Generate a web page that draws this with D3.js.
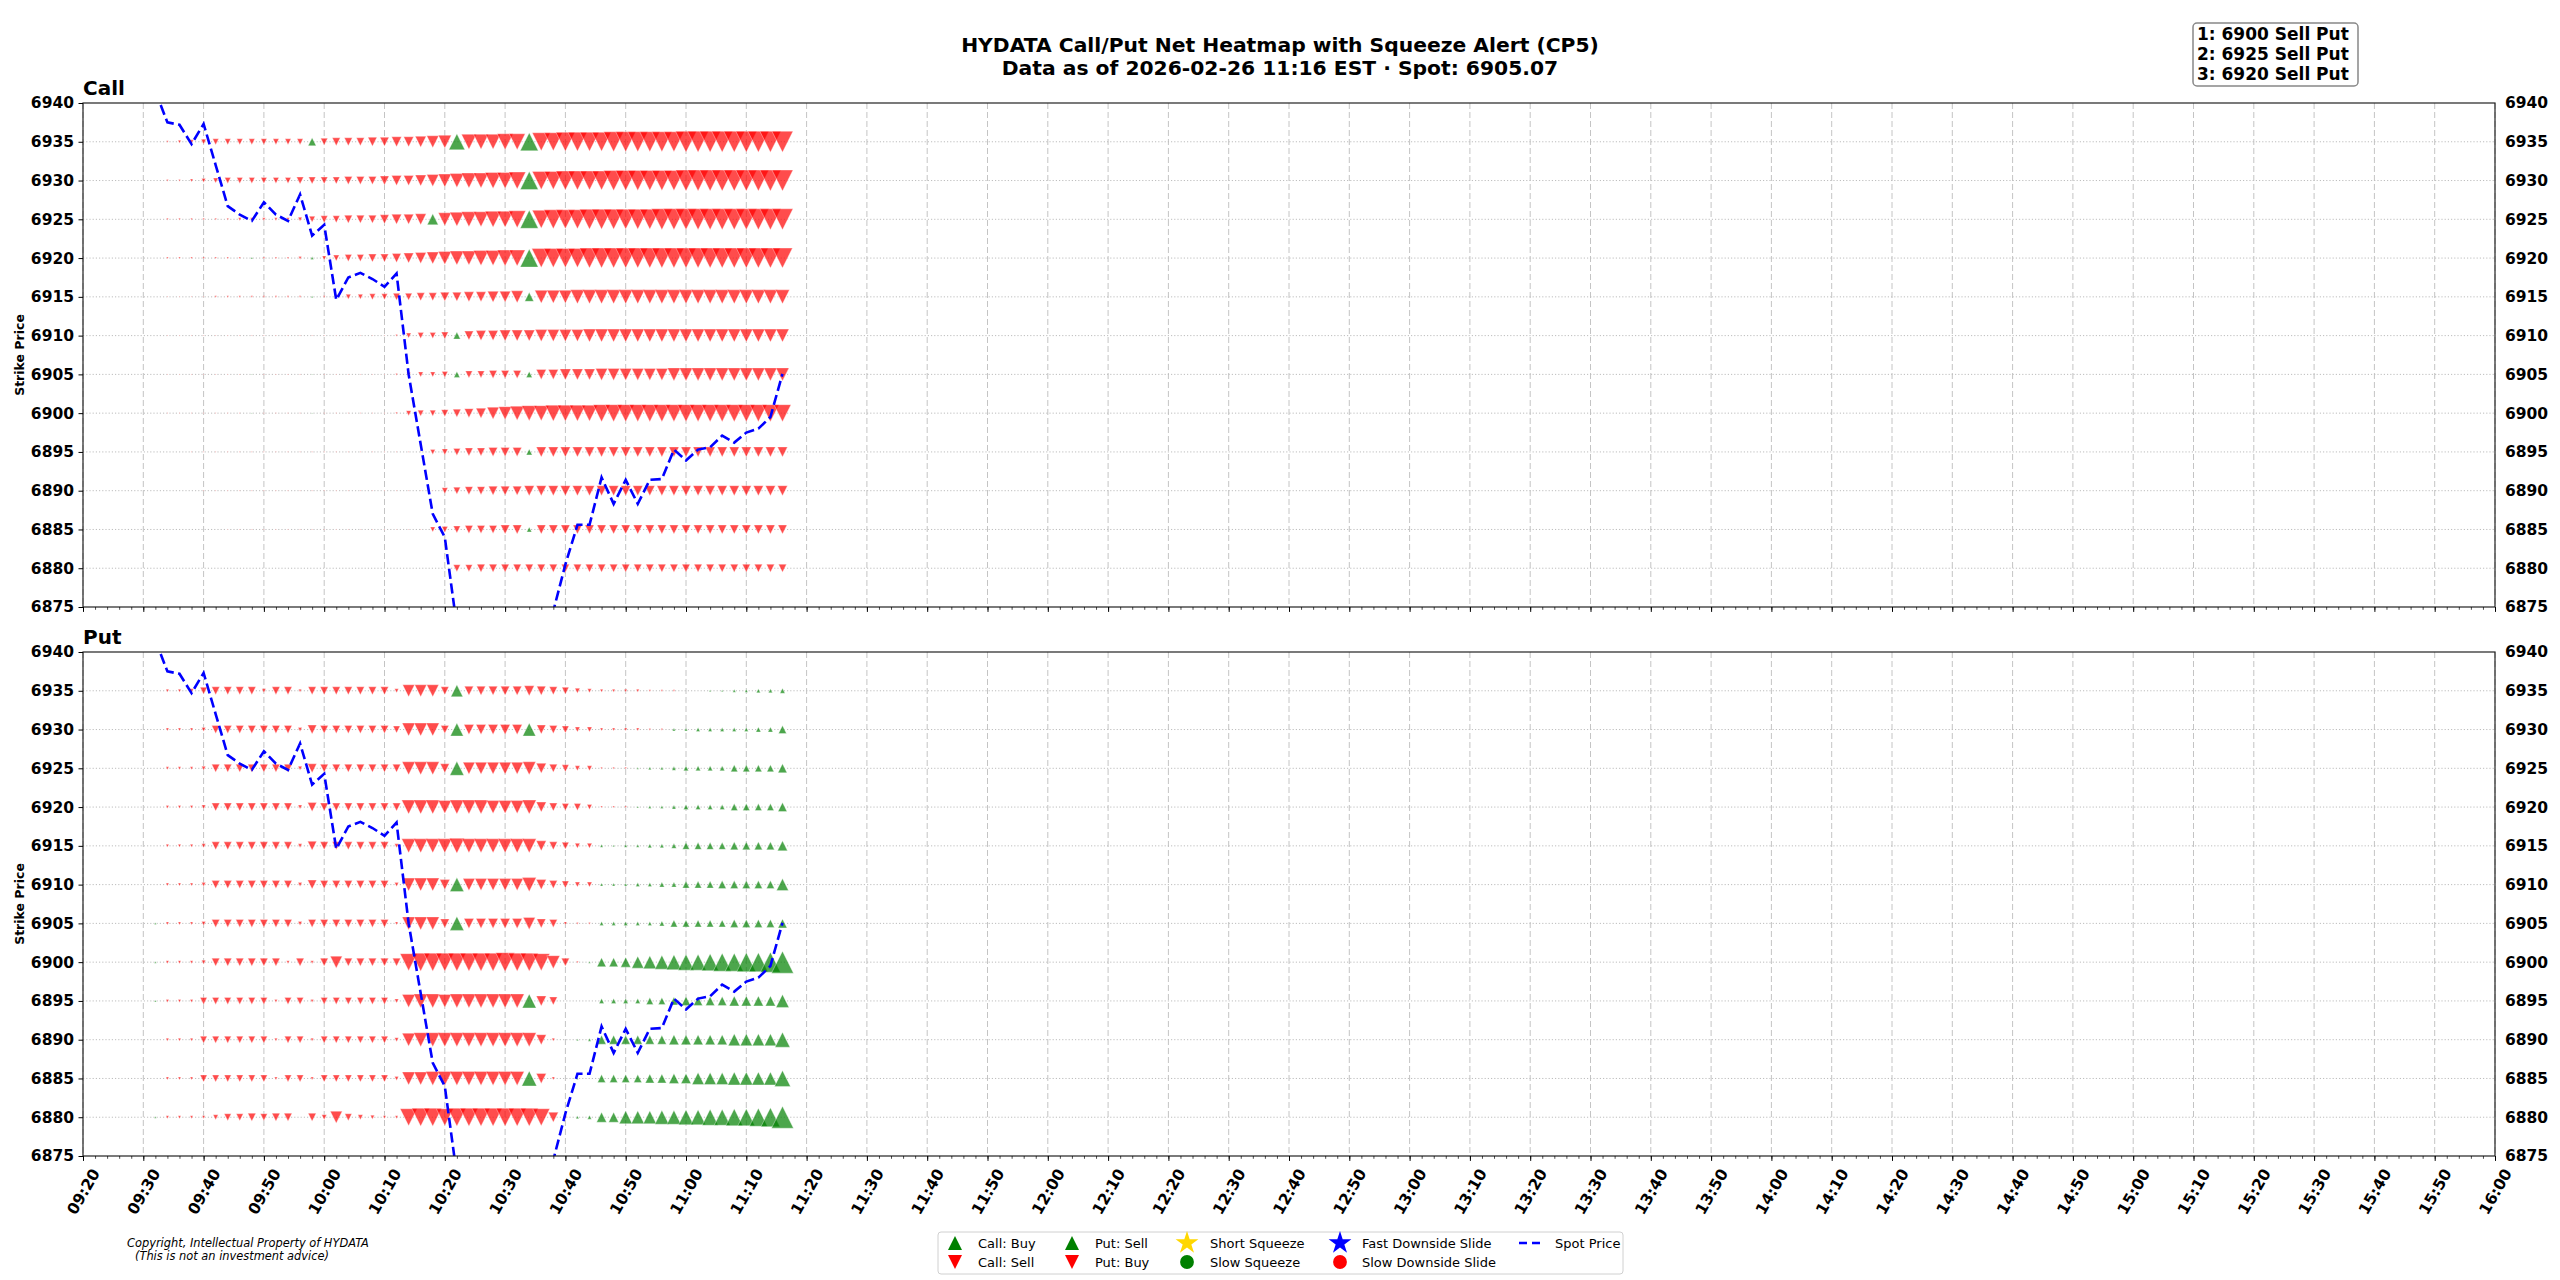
<!DOCTYPE html>
<html>
<head>
<meta charset="utf-8">
<script src="https://cdn.jsdelivr.net/npm/d3@7"></script>
<style>
  body { margin: 0; background: #fff; }
  text { font-family: "DejaVu Sans", sans-serif; }
</style>
</head>
<body>
<svg id="chart" width="2560" height="1280"></svg>
<script>
// strikes shown as rows (top to bottom) and axis ticks
const strikes = [6935, 6930, 6925, 6920, 6915, 6910, 6905, 6900, 6895, 6890, 6885, 6880];
const yTicks = [6875, 6880, 6885, 6890, 6895, 6900, 6905, 6910, 6915, 6920, 6925, 6930, 6935, 6940];

// sample times (every 2 min)
const times = ['09:32','09:34','09:36','09:38','09:40','09:42','09:44','09:46','09:48','09:50','09:52','09:54','09:56','09:58',
  '10:00','10:02','10:04','10:06','10:08','10:10','10:12','10:14','10:16','10:18','10:20','10:22','10:24','10:26','10:28','10:30',
  '10:32','10:34','10:36','10:38','10:40','10:42','10:44','10:46','10:48','10:50','10:52','10:54','10:56','10:58',
  '11:00','11:02','11:04','11:06','11:08','11:10','11:12','11:14','11:16'];

// Call net flow per strike row (+ = Call: Buy, - = Call: Sell)
const callNet = [
  [0,-2,-3,-4,-5,-6,-6,-6,-6,-6,-6,-6,-6,8,-7,-8,-8,-8,-9,-9,-10,-10,-11,-12,-13,16,-15,-15,-15,-16,-16,18,-18,-18,-19,-19,-19,-19,-20,-20,-20,-20,-20,-20,-21,-21,-21,-21,-21,-21,-21,-21,-21],
  [0,-2,-2,-3,-4,-5,-6,-6,-6,-6,-6,-6,-7,-7,-7,-7,-8,-8,-8,-9,-10,-10,-11,-12,-13,-14,-15,-15,-16,-16,-17,18,-18,-18,-19,-19,-19,-19,-20,-20,-20,-20,-20,-20,-21,-21,-21,-21,-21,-21,-21,-21,-21],
  [0,-2,-2,-2,-2,-2,-2,-3,-3,-3,-3,-3,-4,-6,-7,-7,-8,-8,-8,-9,-10,-10,-11,11,-13,-14,-15,-15,-16,-16,-17,18,-18,-19,-19,-19,-20,-20,-20,-20,-20,-20,-21,-21,-21,-21,-21,-21,-21,-21,-21,-21,-21],
  [0,-2,-2,-2,-2,-2,-2,-2,2,-2,-2,-2,-3,3,-4,-6,-7,-7,-8,-8,-9,-10,-11,-12,-13,-14,-14,-15,-15,-16,-16,18,-19,-19,-19,-19,-20,-20,-20,-20,-20,-20,-20,-20,-20,-20,-20,-20,-20,-20,-20,-20,-20],
  [0,-1,-1,-1,-1,-2,-2,-2,-2,-2,-2,-2,-2,2,-2,-4,-5,-5,-6,-6,-7,-7,-8,-8,-9,-9,-10,-10,-11,-11,-12,9,-13,-13,-13,-14,-14,-14,-14,-14,-14,-14,-14,-14,-14,-14,-14,-14,-14,-14,-14,-14,-14],
  [0,-1,-1,-1,-1,-1,-1,-1,-1,-1,-1,-1,-1,-1,-1,-1,-1,-1,-1,-1,-2,-5,-6,-6,-7,7,-9,-10,-10,-11,-11,-11,-12,-12,-12,-12,-13,-13,-13,-13,-13,-13,-13,-13,-13,-13,-13,-13,-13,-13,-13,-13,-13],
  [0,-1,-1,-1,-1,-1,-1,-1,1,-1,-1,-1,-1,1,-1,-1,-1,-1,-1,-1,-2,-4,-5,-5,-6,6,-7,-7,-8,-8,-8,6,-10,-10,-11,-11,-11,-12,-12,-12,-12,-12,-12,-13,-13,-13,-13,-13,-13,-13,-13,-13,-13],
  [0,-1,-1,-1,-1,-1,-1,-1,1,-1,-1,-1,-1,1,-1,-1,-1,-1,-1,-1,-2,-5,-6,-6,-7,-8,-9,-10,-12,-13,-14,-15,-15,-16,-16,-16,-16,-17,-17,-17,-17,-17,-17,-17,-17,-17,-17,-17,-17,-17,-17,-17,-17],
  [0,0,0,-1,-1,-1,-1,-1,-1,-1,-1,-1,-1,-1,-1,-1,-1,-1,-1,-1,-1,-1,-1,-5,-6,-7,-8,-8,-9,-9,-9,6,-10,-10,-10,-10,-10,-10,-10,-10,-10,-10,-10,-10,-10,-10,-10,-10,-10,-10,-10,-10,-10],
  [0,0,0,0,-1,-1,-1,-1,-1,-1,-1,-1,-1,-1,-1,-1,-1,-1,-1,-1,-1,-1,-1,-1,-6,-7,-8,-8,-9,-9,-9,-10,-10,-10,-10,-10,-10,-10,-10,-10,-10,-10,-10,-10,-10,-10,-10,-10,-10,-10,-10,-10,-10],
  [0,0,0,0,0,0,-1,-1,-1,-1,-1,-1,-1,-1,-1,-1,-1,-1,-1,-1,-1,-1,-1,-5,-6,-7,-8,-8,-8,-9,-9,5,-9,-9,-9,-9,-9,-9,-9,-9,-9,-9,-9,-9,-9,-9,-9,-9,-9,-9,-9,-9,-9],
  [0,0,0,0,0,0,0,0,0,0,0,0,0,0,0,0,0,0,0,0,0,0,0,0,0,-7,-7,-8,-8,-8,-8,-8,-8,-8,-8,-8,-8,-8,-8,-8,-8,-8,-8,-8,-8,-8,-8,-8,-8,-8,-8,-8,-8]
];

// Put net flow per strike row (+ = Put: Sell, - = Put: Buy)
const putNet = [
  [0,-3,-3,-4,-7,-8,-8,-8,-8,-4,-8,-8,-3,-8,-8,-8,-8,-8,-8,-8,-4,-12,-12,-12,-8,12,-9,-9,-9,-9,-9,-10,-9,-8,-7,-5,-4,-3,-3,-3,-3,-2,-2,-2,0,0,2,2,3,3,4,4,5],
  [0,-3,-3,-3,-4,-8,-8,-8,-8,-8,-8,-8,-4,-9,-8,-8,-8,-8,-8,-8,-7,-13,-13,-13,-8,13,-10,-10,-10,-10,-10,13,-9,-8,-7,-5,-5,-3,-3,-3,-3,-2,-2,3,3,4,4,4,4,4,5,5,8],
  [0,-3,-3,-3,-4,-8,-8,-8,-8,-8,-8,-8,-4,-9,-8,-8,-8,-8,-8,-8,-8,-13,-13,-13,-9,14,-12,-12,-12,-12,-12,-13,-10,-8,-7,-5,-5,-2,-2,-2,2,3,3,4,5,5,5,5,7,7,7,7,9],
  [0,-3,-3,-3,-4,-8,-8,-8,-8,-8,-8,-8,-4,-9,-8,-8,-8,-8,-8,-8,-8,-14,-14,-14,-13,-14,-14,-14,-13,-13,-13,-14,-10,-8,-7,-7,-5,-2,-2,-2,2,3,3,4,5,5,5,5,7,7,7,7,9],
  [0,-3,-3,-3,-4,-8,-8,-8,-8,-8,-8,-8,-4,-9,-8,-8,-8,-8,-8,-8,-4,-14,-14,-14,-14,-15,-14,-14,-14,-14,-14,-14,-10,-8,-7,-5,-5,3,2,3,3,4,4,5,7,7,7,7,8,8,8,8,10],
  [0,-3,-3,-3,-4,-8,-8,-8,-8,-8,-8,-8,-4,-9,-8,-8,-8,-8,-8,-8,-4,-13,-13,-13,-10,14,-12,-12,-12,-12,-12,-14,-10,-8,-7,-5,-5,3,3,3,4,4,5,5,7,7,7,8,8,8,8,8,12],
  [2,-3,-3,-3,-4,-8,-8,-8,-8,-8,-8,-8,-4,-8,-8,-8,-8,-8,-8,-8,-3,-13,-13,-13,-9,14,-10,-10,-10,-10,-10,-12,-9,-8,-3,-2,-2,4,4,4,4,4,5,7,7,7,7,7,8,8,8,8,9],
  [2,-3,-3,-3,-4,-8,-8,-8,-8,-8,-8,-3,-8,-3,-8,-12,-8,-8,-8,-8,-8,-17,-18,-18,-18,-18,-18,-18,-18,-19,-18,-18,-17,-13,-8,-2,2,9,9,10,12,13,14,15,16,16,17,18,18,19,19,20,22],
  [2,-3,-3,-3,-7,-7,-7,-7,-7,-7,-3,-7,-7,-3,-7,-7,-7,-7,-7,-7,-4,-13,-14,-14,-13,-14,-14,-14,-14,-14,-14,14,-10,-8,0,0,0,5,5,5,5,7,7,8,9,9,9,9,10,10,10,10,13],
  [0,-3,-3,-3,-7,-7,-7,-7,-7,-7,-3,-7,-7,-3,-7,-7,-7,-7,-7,-7,-4,-13,-14,-14,-14,-14,-14,-14,-14,-14,-14,-14,-10,-3,0,2,3,9,9,9,9,9,9,10,10,10,10,10,12,12,12,12,15],
  [0,-3,-3,-3,-7,-7,-7,-7,-7,-7,-3,-7,-7,-3,-7,-7,-7,-7,-7,-7,-4,-13,-13,-14,-14,-14,-14,-14,-14,-14,-14,15,-10,-3,0,2,0,8,8,8,8,9,9,10,10,12,12,12,13,13,13,13,16],
  [2,-3,-3,-3,-3,-5,-7,-7,-8,-7,-8,-8,0,-8,-5,-12,-7,-5,-4,-3,-3,-17,-18,-18,-17,-18,-18,-18,-18,-18,-18,-18,-17,-10,-3,3,4,10,10,13,13,13,14,14,15,15,16,16,17,17,18,19,22]
];

// spot price at each sample time
const spot = [6941.5,6937.5,6937.2,6934.7,6937.3,6932.0,6926.7,6925.6,6924.8,6927.2,6925.6,6924.8,6928.2,6922.9,6924.3,
  6914.6,6917.5,6918.1,6917.3,6916.3,6918.0,6905.0,6896.0,6887.0,6884.0,6872.5,6870.0,6868.0,6866.0,6865.0,6866.0,6868.0,6871.0,
  6874.5,6880.5,6885.6,6885.6,6891.7,6888.3,6891.4,6888.3,6891.4,6891.5,6895.3,6893.9,6895.3,6895.6,6897.1,6896.2,6897.5,
  6898.0,6899.5,6905.07];

const alerts = ['1: 6900 Sell Put', '2: 6925 Sell Put', '3: 6920 Sell Put'];

const svg = d3.select('#chart');
const parseT = d3.timeParse('%H:%M');
const x = d3.scaleTime().domain([parseT('09:20'), parseT('16:00')]).range([83, 2495]);
const size = d3.scaleLinear().domain([0, 21]).range([0, 21]);
const fmt = d3.timeFormat('%H:%M');
const red = '#ff0000', green = '#008000';

const tri = (h, up) => up
  ? `M0,${-h/2}L${h/2},${h/2}L${-h/2},${h/2}Z`
  : `M0,${h/2}L${h/2},${-h/2}L${-h/2},${-h/2}Z`;

// title
svg.append('text').attr('x', 1280).attr('y', 52).attr('text-anchor', 'middle')
  .attr('font-size', 20.3).attr('font-weight', 'bold')
  .text('HYDATA Call/Put Net Heatmap with Squeeze Alert (CP5)');
svg.append('text').attr('x', 1280).attr('y', 75).attr('text-anchor', 'middle')
  .attr('font-size', 20.3).attr('font-weight', 'bold')
  .text('Data as of 2026-02-26 11:16 EST \u00b7 Spot: 6905.07');

const panels = [
  {name: 'Call', top: 103, bottom: 607, rows: callNet, labels: false},
  {name: 'Put', top: 652, bottom: 1156, rows: putNet, labels: true}
];
const L = 83, R = 2495;

panels.forEach((p, k) => {
  const y = d3.scaleLinear().domain([6875, 6940]).range([p.bottom, p.top]);
  const g = svg.append('g');

  svg.append('clipPath').attr('id', 'clip' + k)
    .append('rect').attr('x', L).attr('y', p.top).attr('width', R - L).attr('height', p.bottom - p.top);

  // grid
  g.append('g').selectAll('line').data(x.ticks(d3.timeMinute.every(10))).join('line')
    .attr('x1', d => x(d)).attr('x2', d => x(d)).attr('y1', p.top).attr('y2', p.bottom)
    .attr('stroke', '#c4c4c4').attr('stroke-width', 1).attr('stroke-dasharray', '6,3');
  g.append('g').selectAll('line').data(strikes).join('line')
    .attr('x1', L).attr('x2', R).attr('y1', d => y(d)).attr('y2', d => y(d))
    .attr('stroke', '#bdbdbd').attr('stroke-width', 1).attr('stroke-dasharray', '1.2,2');

  // net flow markers
  const mg = g.append('g').attr('clip-path', `url(#clip${k})`);
  p.rows.forEach((row, r) => {
    row.forEach((v, i) => {
      if (!v) return;
      mg.append('path')
        .attr('transform', `translate(${x(parseT(times[i]))},${y(strikes[r])})`)
        .attr('d', tri(size(Math.abs(v)), v > 0))
        .attr('fill', v > 0 ? green : red).attr('fill-opacity', 0.7)
        .attr('stroke', '#fff').attr('stroke-opacity', 0.6).attr('stroke-width', 0.6);
    });
  });

  // spot line
  const line = d3.line().x((d, i) => x(parseT(times[i]))).y(d => y(d));
  g.append('path').datum(spot).attr('clip-path', `url(#clip${k})`)
    .attr('d', line).attr('fill', 'none').attr('stroke', '#0000ff')
    .attr('stroke-width', 2.6).attr('stroke-dasharray', '10.3,4.4');

  // spines
  g.append('rect').attr('x', L).attr('y', p.top).attr('width', R - L).attr('height', p.bottom - p.top)
    .attr('fill', 'none').attr('stroke', '#222').attr('stroke-width', 1.2);

  // y axes
  const ya = g.append('g').attr('transform', `translate(${L},0)`)
    .call(d3.axisLeft(y).tickValues(yTicks).tickFormat(d3.format('d')).tickSize(4.5).tickPadding(4.5));
  const yb = g.append('g').attr('transform', `translate(${R},0)`)
    .call(d3.axisRight(y).tickValues(yTicks).tickFormat(d3.format('d')).tickSize(0).tickPadding(10));
  [ya, yb].forEach(a => {
    a.select('.domain').remove();
    a.attr('font-family', null).attr('font-size', null);
    a.selectAll('text').attr('font-size', 15.5).attr('font-weight', 'bold').attr('fill', '#000');
  });

  // x axis ticks
  const xa = g.append('g').attr('transform', `translate(0,${p.bottom})`)
    .call(d3.axisBottom(x).ticks(d3.timeMinute.every(10)).tickFormat(p.labels ? fmt : '').tickSize(4.9));
  xa.select('.domain').remove();
  xa.attr('font-family', null).attr('font-size', null);
  g.append('g').attr('transform', `translate(0,${p.bottom})`)
    .call(d3.axisBottom(x).ticks(d3.timeMinute.every(2)).tickFormat('').tickSize(2.8))
    .call(a => a.select('.domain').remove())
    .selectAll('line').attr('stroke-width', 0.7);

  if (p.labels) {
    const th = 60 * Math.PI / 180, fs = 15.5;
    xa.selectAll('.tick text').each(function (d) {
      const t = d3.select(this).attr('font-size', fs).attr('font-weight', 'bold').attr('fill', '#000');
      const w = this.getComputedTextLength(), h = fs * 1.164;
      const bh = w * Math.sin(th) + h * Math.cos(th);
      t.attr('text-anchor', 'middle').attr('dy', null)
        .attr('y', 0.346 * fs).attr('x', 0)
        .attr('transform', `translate(0,${9.7 + bh / 2}) rotate(-60)`);
    });
  }

  // panel title and y label
  svg.append('text').attr('x', L).attr('y', p.top - 8.5).attr('font-size', 20).attr('font-weight', 'bold').text(p.name);
  svg.append('text').attr('transform', `translate(24,${(p.top + p.bottom) / 2}) rotate(-90)`)
    .attr('text-anchor', 'middle').attr('font-size', 12.5).attr('font-weight', 'bold').text('Strike Price');
});

// alert box (top right)
svg.append('rect').attr('x', 2193).attr('y', 23).attr('width', 165).attr('height', 63).attr('rx', 4)
  .attr('fill', '#fff').attr('stroke', '#888').attr('stroke-width', 1.5);
svg.append('g').selectAll('text').data(alerts).join('text')
  .attr('x', 2197).attr('y', (d, i) => 39.5 + i * 20)
  .attr('font-size', 17).attr('font-weight', 'bold').text(d => d);

// copyright
svg.append('text').attr('x', 127).attr('y', 1247).attr('font-size', 11.4).attr('font-style', 'italic')
  .text('Copyright, Intellectual Property of HYDATA');
svg.append('text').attr('x', 135).attr('y', 1260).attr('font-size', 11.4).attr('font-style', 'italic')
  .text('(This is not an investment advice)');

// legend
const legendItems = [
  {label: 'Call: Buy', kind: 'up', color: green, col: 0, row: 0},
  {label: 'Call: Sell', kind: 'down', color: red, col: 0, row: 1},
  {label: 'Put: Sell', kind: 'up', color: green, col: 1, row: 0},
  {label: 'Put: Buy', kind: 'down', color: red, col: 1, row: 1},
  {label: 'Short Squeeze', kind: 'star', color: '#ffd700', col: 2, row: 0},
  {label: 'Slow Squeeze', kind: 'circle', color: green, col: 2, row: 1},
  {label: 'Fast Downside Slide', kind: 'star', color: '#0000ff', col: 3, row: 0},
  {label: 'Slow Downside Slide', kind: 'circle', color: red, col: 3, row: 1},
  {label: 'Spot Price', kind: 'line', color: '#0000ff', col: 4, row: 0}
];
const colMarker = [955, 1072, 1187, 1340, 1530];
const colText = [978, 1095, 1210, 1362, 1555];
const rowY = [1243, 1262];
svg.append('rect').attr('x', 938).attr('y', 1232).attr('width', 685).attr('height', 42).attr('rx', 3)
  .attr('fill', '#fff').attr('stroke', '#d0d0d0').attr('stroke-width', 1);
const lg = svg.append('g');
legendItems.forEach(d => {
  const cx = colMarker[d.col], cy = rowY[d.row];
  if (d.kind === 'line') {
    lg.append('line').attr('x1', cx - 11).attr('x2', cx + 11).attr('y1', cy).attr('y2', cy)
      .attr('stroke', d.color).attr('stroke-width', 2.6).attr('stroke-dasharray', '8,5');
  } else {
    let path;
    if (d.kind === 'up' || d.kind === 'down') path = tri(14, d.kind === 'up');
    else if (d.kind === 'star') path = d3.symbol(d3.symbolStar, 160)();
    else path = d3.symbol(d3.symbolCircle, 150)();
    lg.append('path').attr('transform', `translate(${cx},${cy})`).attr('d', path).attr('fill', d.color);
  }
  lg.append('text').attr('x', colText[d.col]).attr('y', cy + 4.5).attr('font-size', 13).text(d.label);
});
</script>
</body>
</html>
